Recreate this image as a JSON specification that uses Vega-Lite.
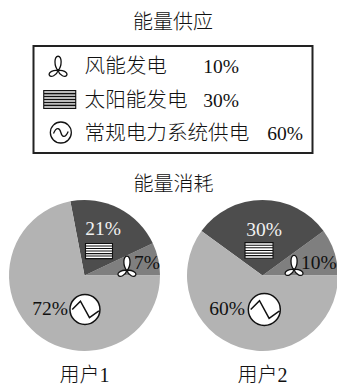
{
  "$schema": "https://vega.github.io/schema/vega-lite/v6.json",
  "background": "white",
  "padding": {"left": 9, "top": 12, "right": 0, "bottom": 0},
  "autosize": {"type": "pad"},
  "config": {
    "view": {"stroke": null},
    "font": "Liberation Serif, Noto Sans CJK SC",
    "title": {"font": "Liberation Serif, Noto Sans CJK SC", "fontSize": 20, "fontWeight": 300, "color": "#111", "anchor": "middle"},
    "text": {"font": "Liberation Serif, Noto Sans CJK SC", "fontSize": 19.5, "fontWeight": 300, "color": "#111"}
  },
  "datasets": {
    "supply": [
      {"source": "wind", "name": "风能发电", "share": 0.10},
      {"source": "solar", "name": "太阳能发电", "share": 0.30},
      {"source": "grid", "name": "常规电力系统供电", "share": 0.60}
    ],
    "consumption": [
      {"user": "用户1", "source": "wind", "share": 0.07},
      {"user": "用户1", "source": "solar", "share": 0.21},
      {"user": "用户1", "source": "grid", "share": 0.72},
      {"user": "用户2", "source": "wind", "share": 0.10},
      {"user": "用户2", "source": "solar", "share": 0.30},
      {"user": "用户2", "source": "grid", "share": 0.60}
    ]
  },
  "center": true,
  "spacing": 21,
  "vconcat": [
    {
      "title": {"text": "能量供应", "offset": 13},
      "width": 279,
      "height": 107,
      "view": {"stroke": "#222", "strokeWidth": 2},
      "data": {"name": "supply"},
      "encoding": {
        "y": {"field": "source", "type": "nominal", "axis": null, "sort": ["wind", "solar", "grid"], "scale": {"type": "point", "padding": 0.62}}
      },
      "layer": [
        {
          "transform": [{"filter": "datum.source === 'wind'"}],
          "mark": {"type": "point", "filled": true, "opacity": 1, "fill": "white", "stroke": "#111", "strokeWidth": 1.3, "size": 420,
            "shape": "M0,0.4C-0.4,0 -0.4,-1 0,-1C0.4,-1 0.4,0 0,0.4C-0.15,0.9 -0.7,1.1 -0.85,0.85C-1,0.55 -0.4,0.3 0,0.4C0.4,0.3 1,0.55 0.85,0.85C0.7,1.1 0.15,0.9 0,0.4Z"},
          "encoding": {"x": {"datum": 8.8, "type": "quantitative", "scale": {"domain": [0, 100]}, "axis": null}}
        },
        {
          "transform": [{"filter": "datum.source === 'solar'"}],
          "mark": {"type": "point", "filled": true, "opacity": 1, "fill": "#bbbbbb", "stroke": "#111", "strokeWidth": 1.1, "size": 1024,
            "shape": "M-1,-0.56H1V0.56H-1ZM-1,-0.37H1M-1,-0.19H1M-1,0H1M-1,0.19H1M-1,0.37H1"},
          "encoding": {"x": {"datum": 9.4, "type": "quantitative", "scale": {"domain": [0, 100]}, "axis": null}}
        },
        {
          "transform": [{"filter": "datum.source === 'grid'"}],
          "mark": {"type": "point", "filled": true, "opacity": 1, "fill": "white", "stroke": "#111", "strokeWidth": 1.3, "size": 441,
            "shape": "M-1,0A1,1 0 1 1 1,0A1,1 0 1 1 -1,0ZM-0.7,0.1C-0.4,-0.6 -0.1,-0.4 0,0C0.1,0.4 0.4,0.6 0.7,-0.1C0.4,0.6 0.1,0.4 0,0C-0.1,-0.4 -0.4,-0.6 -0.7,0.1Z"},
          "encoding": {"x": {"datum": 9.8, "type": "quantitative", "scale": {"domain": [0, 100]}, "axis": null}}
        },
        {
          "mark": {"type": "text", "align": "left", "fontSize": 20.6, "dy": 1},
          "encoding": {
            "x": {"datum": 18.3, "type": "quantitative", "scale": {"domain": [0, 100]}, "axis": null},
            "text": {"field": "name"}
          }
        },
        {
          "transform": [{"filter": "datum.source !== 'grid'"}],
          "mark": {"type": "text", "align": "right", "dy": 1},
          "encoding": {
            "x": {"datum": 73.7, "type": "quantitative", "scale": {"domain": [0, 100]}, "axis": null},
            "text": {"field": "share", "format": ".0%"}
          }
        },
        {
          "transform": [{"filter": "datum.source === 'grid'"}],
          "mark": {"type": "text", "align": "right", "dy": 1},
          "encoding": {
            "x": {"datum": 96.6, "type": "quantitative", "scale": {"domain": [0, 100]}, "axis": null},
            "text": {"field": "share", "format": ".0%"}
          }
        }
      ]
    },
    {
      "title": {"text": "能量消耗", "offset": 5},
      "spacing": 26,
      "hconcat": [
        {
          "title": {"text": "用户1", "orient": "bottom", "offset": 15},
          "width": 151,
          "height": 151,
          "data": {"name": "consumption"},
          "transform": [{"filter": "datum.user === '用户1'"}],
          "layer": [
            {
              "mark": {"type": "arc", "outerRadius": 75.5},
              "encoding": {
                "theta": {"field": "share", "type": "quantitative", "scale": {"range": [1.5707963, 7.8539816]}},
                "order": {"field": "share", "sort": "descending"},
                "color": {"field": "source", "type": "nominal", "legend": null, "scale": {"domain": ["wind", "solar", "grid"], "range": ["#7f7f7f", "#4d4d4d", "#b3b3b3"]}}
              }
            },
            {
              "transform": [{"filter": "datum.source === 'solar'"}],
              "mark": {"type": "text", "color": "#f2f2f2"},
              "encoding": {
                "x": {"datum": 62.3, "type": "quantitative", "scale": {"domain": [0, 100]}, "axis": null},
                "y": {"datum": 19.5, "type": "quantitative", "scale": {"domain": [0, 100], "reverse": true}, "axis": null},
                "text": {"field": "share", "format": ".0%"}
              }
            },
            {
              "transform": [{"filter": "datum.source === 'solar'"}],
              "mark": {"type": "point", "filled": true, "opacity": 1, "fill": "white", "stroke": "#111", "strokeWidth": 1.1, "size": 729,
                "shape": "M-1,-0.56H1V0.56H-1ZM-1,-0.37H1M-1,-0.19H1M-1,0H1M-1,0.19H1M-1,0.37H1"},
              "encoding": {
                "x": {"datum": 59.6, "type": "quantitative", "scale": {"domain": [0, 100]}, "axis": null},
                "y": {"datum": 33.8, "type": "quantitative", "scale": {"domain": [0, 100], "reverse": true}, "axis": null}
              }
            },
            {
              "transform": [{"filter": "datum.source === 'wind'"}],
              "mark": {"type": "text"},
              "encoding": {
                "x": {"datum": 91.4, "type": "quantitative", "scale": {"domain": [0, 100]}, "axis": null},
                "y": {"datum": 42, "type": "quantitative", "scale": {"domain": [0, 100], "reverse": true}, "axis": null},
                "text": {"field": "share", "format": ".0%"}
              }
            },
            {
              "transform": [{"filter": "datum.source === 'wind'"}],
              "mark": {"type": "point", "filled": true, "opacity": 1, "fill": "white", "stroke": "#111", "strokeWidth": 1.3, "size": 420,
                "shape": "M0,0.4C-0.4,0 -0.4,-1 0,-1C0.4,-1 0.4,0 0,0.4C-0.15,0.9 -0.7,1.1 -0.85,0.85C-1,0.55 -0.4,0.3 0,0.4C0.4,0.3 1,0.55 0.85,0.85C0.7,1.1 0.15,0.9 0,0.4Z"},
              "encoding": {
                "x": {"datum": 78.1, "type": "quantitative", "scale": {"domain": [0, 100]}, "axis": null},
                "y": {"datum": 44, "type": "quantitative", "scale": {"domain": [0, 100], "reverse": true}, "axis": null}
              }
            },
            {
              "transform": [{"filter": "datum.source === 'grid'"}],
              "mark": {"type": "text"},
              "encoding": {
                "x": {"datum": 27.2, "type": "quantitative", "scale": {"domain": [0, 100]}, "axis": null},
                "y": {"datum": 71.9, "type": "quantitative", "scale": {"domain": [0, 100], "reverse": true}, "axis": null},
                "text": {"field": "share", "format": ".0%"}
              }
            },
            {
              "transform": [{"filter": "datum.source === 'grid'"}],
              "mark": {"type": "point", "filled": true, "opacity": 1, "fill": "white", "stroke": "#111", "strokeWidth": 1.5, "size": 900,
                "shape": "M-1,0A1,1 0 1 1 1,0A1,1 0 1 1 -1,0ZM-0.85,0L-0.3,-0.55L0.3,0.55L0.93,0.1L0.3,0.55L-0.3,-0.55Z"},
              "encoding": {
                "x": {"datum": 50.3, "type": "quantitative", "scale": {"domain": [0, 100]}, "axis": null},
                "y": {"datum": 72.5, "type": "quantitative", "scale": {"domain": [0, 100], "reverse": true}, "axis": null}
              }
            }
          ]
        },
        {
          "title": {"text": "用户2", "orient": "bottom", "offset": 15},
          "width": 151,
          "height": 151,
          "data": {"name": "consumption"},
          "transform": [{"filter": "datum.user === '用户2'"}],
          "layer": [
            {
              "mark": {"type": "arc", "outerRadius": 75.5},
              "encoding": {
                "theta": {"field": "share", "type": "quantitative", "scale": {"range": [1.5707963, 7.8539816]}},
                "order": {"field": "share", "sort": "descending"},
                "color": {"field": "source", "type": "nominal", "legend": null, "scale": {"domain": ["wind", "solar", "grid"], "range": ["#7f7f7f", "#4d4d4d", "#b3b3b3"]}}
              }
            },
            {
              "transform": [{"filter": "datum.source === 'solar'"}],
              "mark": {"type": "text", "color": "#f2f2f2"},
              "encoding": {
                "x": {"datum": 51, "type": "quantitative", "scale": {"domain": [0, 100]}, "axis": null},
                "y": {"datum": 19.7, "type": "quantitative", "scale": {"domain": [0, 100], "reverse": true}, "axis": null},
                "text": {"field": "share", "format": ".0%"}
              }
            },
            {
              "transform": [{"filter": "datum.source === 'solar'"}],
              "mark": {"type": "point", "filled": true, "opacity": 1, "fill": "white", "stroke": "#111", "strokeWidth": 1.1, "size": 784,
                "shape": "M-1,-0.56H1V0.56H-1ZM-1,-0.37H1M-1,-0.19H1M-1,0H1M-1,0.19H1M-1,0.37H1"},
              "encoding": {
                "x": {"datum": 47.7, "type": "quantitative", "scale": {"domain": [0, 100]}, "axis": null},
                "y": {"datum": 33.4, "type": "quantitative", "scale": {"domain": [0, 100], "reverse": true}, "axis": null}
              }
            },
            {
              "transform": [{"filter": "datum.source === 'wind'"}],
              "mark": {"type": "text"},
              "encoding": {
                "x": {"datum": 87.4, "type": "quantitative", "scale": {"domain": [0, 100]}, "axis": null},
                "y": {"datum": 42, "type": "quantitative", "scale": {"domain": [0, 100], "reverse": true}, "axis": null},
                "text": {"field": "share", "format": ".0%"}
              }
            },
            {
              "transform": [{"filter": "datum.source === 'wind'"}],
              "mark": {"type": "point", "filled": true, "opacity": 1, "fill": "white", "stroke": "#111", "strokeWidth": 1.3, "size": 420,
                "shape": "M0,0.4C-0.4,0 -0.4,-1 0,-1C0.4,-1 0.4,0 0,0.4C-0.15,0.9 -0.7,1.1 -0.85,0.85C-1,0.55 -0.4,0.3 0,0.4C0.4,0.3 1,0.55 0.85,0.85C0.7,1.1 0.15,0.9 0,0.4Z"},
              "encoding": {
                "x": {"datum": 70.9, "type": "quantitative", "scale": {"domain": [0, 100]}, "axis": null},
                "y": {"datum": 43.4, "type": "quantitative", "scale": {"domain": [0, 100], "reverse": true}, "axis": null}
              }
            },
            {
              "transform": [{"filter": "datum.source === 'grid'"}],
              "mark": {"type": "text"},
              "encoding": {
                "x": {"datum": 26.5, "type": "quantitative", "scale": {"domain": [0, 100]}, "axis": null},
                "y": {"datum": 72.5, "type": "quantitative", "scale": {"domain": [0, 100], "reverse": true}, "axis": null},
                "text": {"field": "share", "format": ".0%"}
              }
            },
            {
              "transform": [{"filter": "datum.source === 'grid'"}],
              "mark": {"type": "point", "filled": true, "opacity": 1, "fill": "white", "stroke": "#111", "strokeWidth": 1.5, "size": 1024,
                "shape": "M-1,0A1,1 0 1 1 1,0A1,1 0 1 1 -1,0ZM-0.85,0L-0.3,-0.55L0.3,0.55L0.93,0.1L0.3,0.55L-0.3,-0.55Z"},
              "encoding": {
                "x": {"datum": 51.2, "type": "quantitative", "scale": {"domain": [0, 100]}, "axis": null},
                "y": {"datum": 72.5, "type": "quantitative", "scale": {"domain": [0, 100], "reverse": true}, "axis": null}
              }
            }
          ]
        }
      ]
    }
  ]
}
